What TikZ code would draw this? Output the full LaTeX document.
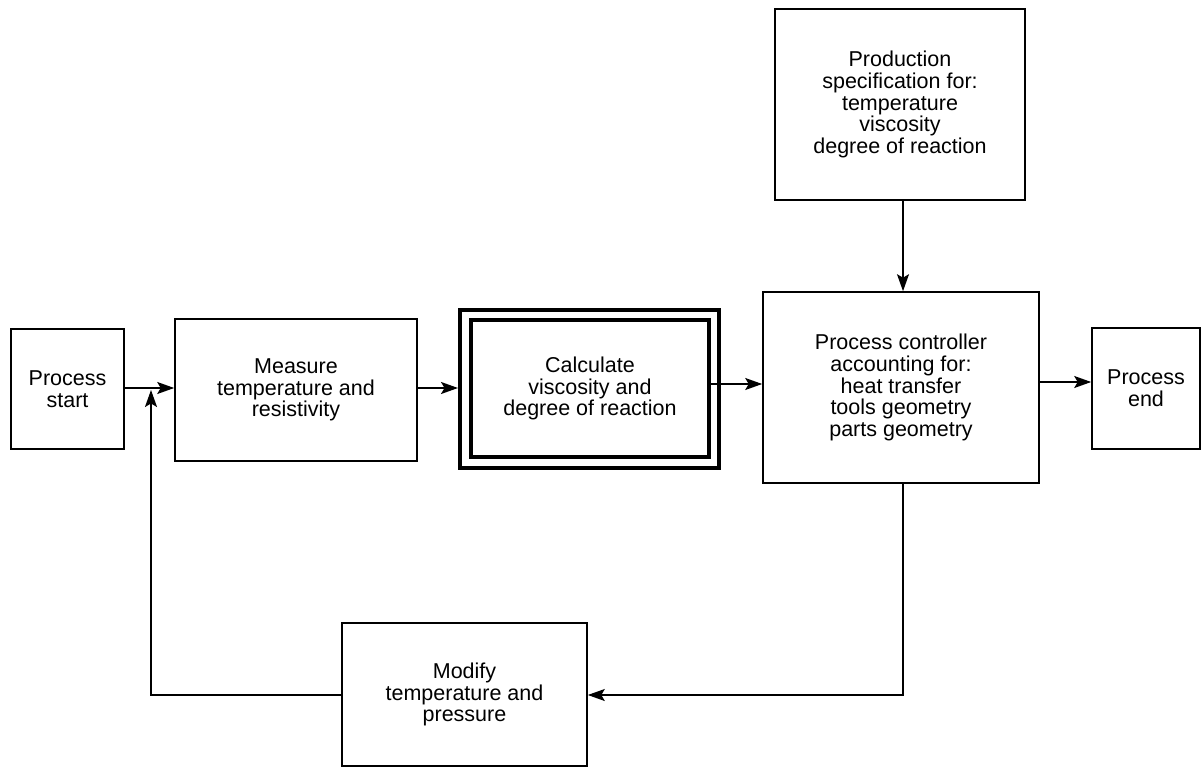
\documentclass[tikz,border=0pt]{standalone}
\usepackage{fontspec}
\setmainfont{Liberation Sans}
\usetikzlibrary{arrows.meta,calc}
\begin{document}
\begin{tikzpicture}[x=1pt,y=-1pt,
  box/.style={draw,rectangle,line width=1.6pt,align=center,inner sep=0pt,
    font=\fontsize{21.5}{21.7}\selectfont},
  arr/.style={line width=1.5pt,-{Stealth[length=17pt,width=12pt,inset=3.5pt]}},
  ln/.style={line width=1.5pt}]
\useasboundingbox (0,0) rectangle (1202,767);
\node[box,minimum width=113pt,minimum height=120pt] (start) at (67.5,389) {Process\\start};
\node[box,minimum width=242pt,minimum height=142pt] (measure) at (296,390) {Measure\\temperature and\\resistivity};
\node[draw,rectangle,line width=4pt,minimum width=259pt,minimum height=158pt,inner sep=0pt] (calcout) at (589.5,389) {};
\node[box,line width=4pt,minimum width=238pt,minimum height=137pt] (calc) at (590,388.5) {Calculate\\viscosity and\\degree of reaction};
\node[box,minimum width=276pt,minimum height=191pt] (ctrl) at (901,387.5) {Process controller\\accounting for:\\heat transfer\\tools geometry\\parts geometry};
\node[box,minimum width=250pt,minimum height=191pt] (prod) at (900,104.5) {Production\\specification for:\\temperature\\viscosity\\degree of reaction};
\node[box,minimum width=108pt,minimum height=121pt] (end) at (1146,388.5) {Process\\end};
\node[box,minimum width=245pt,minimum height=143pt] (modify) at (464.5,694.5) {Modify\\temperature and\\pressure};
\coordinate (fbcorner) at (151,695);
\coordinate (ctrlcorner) at (903,695);
\draw[arr] (start.east |- 0,388) -- (measure.west |- 0,388);
\draw[arr] (measure.east |- 0,388) -- (calcout.west |- 0,388);
\draw[arr] (calc.east |- 0,384) -- (ctrl.west |- 0,384);
\draw[arr] (ctrl.east |- 0,382) -- (end.west |- 0,382);
\draw[arr] (prod.south -| 903,0) -- (ctrl.north -| 903,0);
\draw[arr] (ctrl.south -| ctrlcorner) -- (ctrlcorner) -- (modify.east |- ctrlcorner);
\draw[arr] (modify.west |- fbcorner) -- (fbcorner) -- (151,390);
\end{tikzpicture}
\end{document}
